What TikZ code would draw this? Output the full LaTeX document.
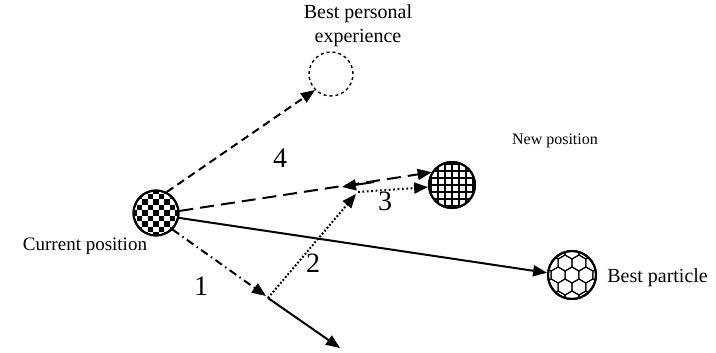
\documentclass[tikz,border=0pt]{standalone}
\usepackage{fontspec}
\setmainfont{Liberation Serif}
\usetikzlibrary{arrows.meta,calc}

\tikzset{
  ball/.style={circle,draw,line width=2pt,minimum size=46pt,inner sep=0pt},
  tip/.style={-{Triangle[length=14pt,width=11pt]}},
  lbl/.style={font=\fontsize{#1}{24}\selectfont},
  lbl/.default=19,
  num/.style={font=\fontsize{28}{30}\selectfont},
}

\begin{document}
\begin{tikzpicture}[x=1pt,y=-1pt,line width=2pt]
  \useasboundingbox (0,0) rectangle (716,353);
  % particles
  \node[ball,minimum size=45pt] (cur) at (156,213) {};
  \node[ball,dashed,line width=1.4pt,minimum size=44pt] (pbest) at (331,74) {};
  \node[ball] (newp) at (452,185) {};
  \node[ball,minimum size=48pt] (gbest) at (572,275) {};
  % checkerboard fill
  \begin{scope}
    \clip (cur.center) circle (22.5);
    \foreach \i in {0,...,8}
      \foreach \j in {0,...,8} {
        \pgfmathparse{int(mod(\i+\j,2))}
        \ifnum\pgfmathresult=0
          \fill ($(cur.center)+(-24.75+5.5*\i,-24.75+5.5*\j)$) rectangle +(5.5,5.5);
        \fi
      }
  \end{scope}
  % grid fill
  \begin{scope}
    \clip (newp.center) circle (23);
    \foreach \d in {-21,-14,...,21} {
      \draw[line width=1.1pt] ($(newp.center)+(\d,-25)$) -- +(0,50);
      \draw[line width=1.1pt] ($(newp.center)+(-25,\d)$) -- +(50,0);
    }
  \end{scope}
  % hexagon fill
  \begin{scope}[line width=1pt]
    \clip (gbest.center) circle (24);
    \foreach \i in {-2,...,2}
      \foreach \j in {-1,...,1} {
        \draw ($(gbest.center)+(\i*13.9,\j*24)$) +(90:8) -- +(30:8) -- +(-30:8)
          -- +(-90:8) -- +(-150:8) -- +(150:8) -- cycle;
        \draw ($(gbest.center)+(\i*13.9+6.95,\j*24+12)$) +(90:8) -- +(30:8) -- +(-30:8)
          -- +(-90:8) -- +(-150:8) -- +(150:8) -- cycle;
      }
  \end{scope}
  \draw (cur) circle (22.5);
  \draw (newp) circle (23);
  \draw (gbest) circle (24);
  % velocity pieces
  \coordinate (v1) at (266,296);
  \coordinate (v1s) at (268,298);
  \coordinate (vend) at (340,348);
  \coordinate (v2) at (356,194);
  \coordinate (v2s) at (358,192);
  \coordinate (m4) at (342,187);
  \coordinate (m4s) at (374,182);
  \draw[tip,dash pattern=on 8pt off 5pt] (cur.63) -- (pbest.225);
  \draw[tip] (cur.-12) -- (gbest.175);
  \draw[tip,dash pattern=on 14pt off 7pt] (cur.5) -- (newp.148);
  \draw[tip,dash pattern=on 8pt off 4pt on 1.5pt off 4pt] (cur.-45) -- (v1);
  \draw[tip] (v1s) -- (vend);
  \draw[tip,dash pattern=on 1.8pt off 2pt] (v1s) -- (v2);
  \draw[tip,dash pattern=on 1.8pt off 2.6pt] (v2s) -- (newp.185);
  \draw[tip] (m4s) -- (m4);
  % labels
  \node[lbl=20,align=center] (pbestlbl) at (358,26) {Best personal\\experience};
  \node[lbl=16] (newplbl) at (555,141) {New position};
  \node[lbl=19] (curlbl) at (85,246) {Current position};
  \node[lbl=20,anchor=west] (gbestlbl) at (603,278) {Best particle};
  \node[num] (n1) at (201,286) {1};
  \node[num] (n2) at (313,263) {2};
  \node[num] (n3) at (385,201) {3};
  \node[num] (n4) at (280,158) {4};
\end{tikzpicture}
\end{document}
